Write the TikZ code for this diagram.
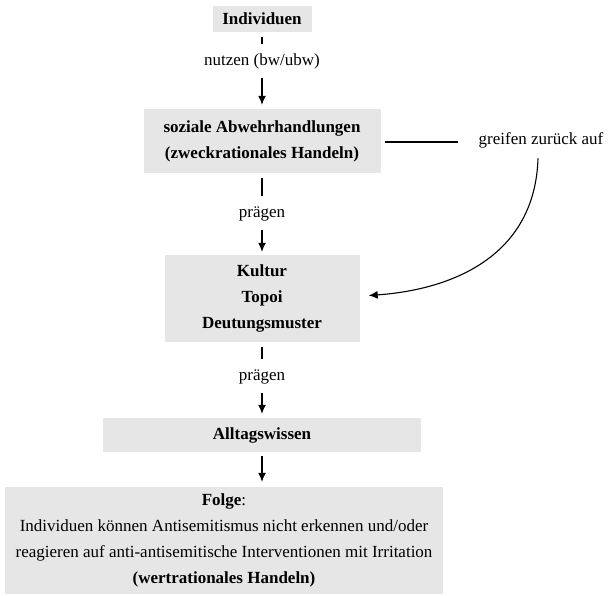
\documentclass[tikz,border=0pt]{standalone}
\usepackage{fontspec}
\setmainfont{Liberation Serif}
\usetikzlibrary{arrows.meta}
\definecolor{boxgray}{RGB}{230,230,230}
\tikzset{
    box/.style={fill=boxgray, inner sep=0pt, align=center, font=\fontsize{17}{26}\selectfont},
    edgelabel/.style={inner xsep=2pt, inner ysep=9pt, text height=12pt, text depth=4pt, font=\fontsize{17}{20}\selectfont},
    link/.style={line width=1.1pt},
    linkarrow/.style={line width=1.1pt, -{Latex[length=9pt,width=8pt]}},
}

\begin{document}
\begin{tikzpicture}[x=1pt, y=-1pt]
    \useasboundingbox (0,0) rectangle (612,595);

    \node[box, minimum width=99pt, minimum height=26pt] (individuen) at (262,19) {\textbf{Individuen}};
    \node[box, minimum width=237pt, minimum height=64pt] (abwehr) at (262,141) {\textbf{soziale Abwehrhandlungen}\\\textbf{(zweckrationales Handeln)}};
    \node[box, minimum width=195pt, minimum height=87pt] (kultur) at (262,298.5) {\textbf{Kultur}\\\textbf{Topoi}\\\textbf{Deutungsmuster}};
    \node[box, minimum width=318pt, minimum height=34pt] (alltag) at (262,435) {\textbf{Alltagswissen}};
    \node[box, minimum width=438pt, minimum height=107pt] (folge) at (224,540.5) {\textbf{Folge}:\\Individuen können Antisemitismus nicht erkennen und/oder\\reagieren auf anti-antisemitische Interventionen mit Irritation\\\textbf{(wertrationales Handeln)}};

    \node[edgelabel] (nutzen) at (262,61) {nutzen (bw/ubw)};
    \node[edgelabel] (praegenA) at (262,213) {prägen};
    \node[edgelabel] (praegenB) at (262,376) {prägen};
    \node[font=\fontsize{17}{20}\selectfont] (greifen) at (541,140) {greifen zurück auf};

    \draw[link, shorten <=5pt] (individuen) -- (nutzen);
    \draw[linkarrow, shorten >=4pt] (nutzen) -- (abwehr);
    \draw[link, shorten <=5pt] (abwehr) -- (praegenA);
    \draw[linkarrow, shorten >=3pt] (praegenA) -- (kultur);
    \draw[link, shorten <=5pt] (kultur) -- (praegenB);
    \draw[linkarrow, shorten >=4pt] (praegenB) -- (alltag);
    \draw[linkarrow, shorten <=4pt, shorten >=5pt] (alltag) -- (alltag.south |- folge.north);

    \draw[link, shorten <=4pt, shorten >=17pt] ([yshift=-1pt]abwehr.east) -- ([yshift=-1pt]abwehr.east -| greifen.west);
    \draw[linkarrow] ([xshift=-3pt,yshift=-7pt]greifen.south) .. controls +(-3,97) and +(85,-6) .. ([xshift=9pt,yshift=3pt]kultur.east);
\end{tikzpicture}
\end{document}
